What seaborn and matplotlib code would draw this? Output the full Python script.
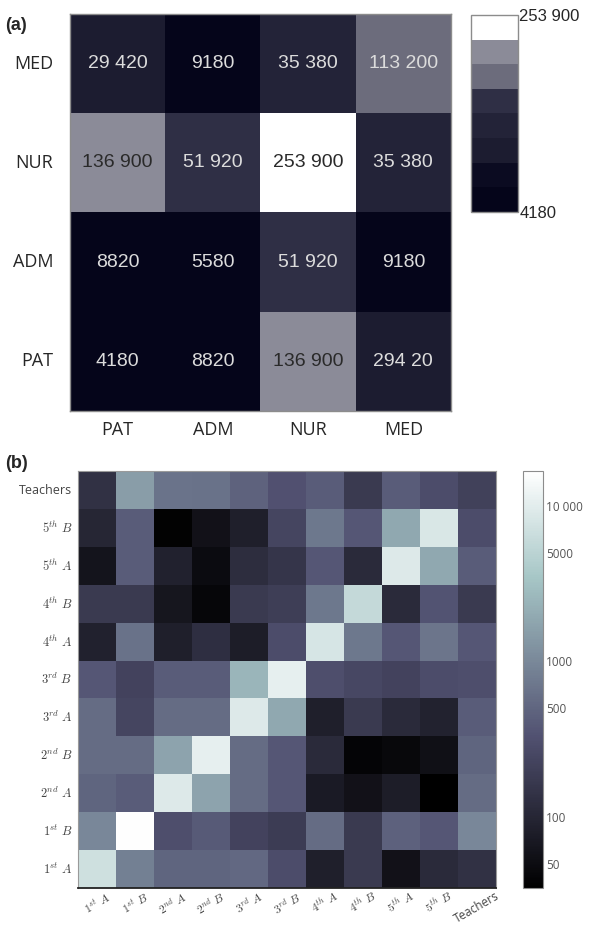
import numpy as np
import pandas as pd
import matplotlib
matplotlib.use("Agg")
import matplotlib.pyplot as plt
import seaborn as sns
from matplotlib.colors import ListedColormap, BoundaryNorm, LogNorm

# (a) contactos entre roles del hospital
roles = ["PAT", "ADM", "NUR", "MED"]
fila_pat = [4180, 8820, 136900, 29420]
fila_adm = [8820, 5580, 51920, 9180]
fila_nur = [136900, 51920, 253900, 35380]
fila_med = [29420, 9180, 35380, 113200]
texto_pat = ["4180", "8820", "136 900", "294 20"]
texto_adm = ["8820", "5580", "51 920", "9180"]
texto_nur = ["136 900", "51 920", "253 900", "35 380"]
texto_med = ["29 420", "9180", "35 380", "113 200"]
niveles_a = [4180, 10000, 25000, 32000, 45000, 100000, 125000, 200000, 253900]
colores_a = ["#05051a", "#0b0b21", "#1c1c30", "#232338", "#2f2f45",
             "#6c6c7c", "#8b8b98", "#ffffff"]
ticks_a = [4180, 253900]
ticklabels_a = ["4180", "253 900"]

# (b) contactos entre clases de la escuela
clases = [r"$1^{st}\ A$", r"$1^{st}\ B$", r"$2^{nd}\ A$", r"$2^{nd}\ B$",
          r"$3^{rd}\ A$", r"$3^{rd}\ B$", r"$4^{th}\ A$", r"$4^{th}\ B$",
          r"$5^{th}\ A$", r"$5^{th}\ B$", "Teachers"]
c1a = [7000, 860, 495, 495, 520, 285, 83, 175, 57, 113, 136]
c1b = [980, 16000, 303, 390, 223, 185, 560, 175, 450, 365, 980]
c2a = [495, 413, 9000, 1700, 560, 365, 73, 57, 78, 35, 560]
c2b = [560, 560, 1700, 10700, 560, 365, 113, 40, 44, 55, 495]
c3a = [560, 237, 560, 560, 9000, 1880, 83, 175, 113, 90, 413]
c3b = [365, 223, 413, 413, 2470, 10700, 303, 252, 223, 285, 303]
c4a = [88, 636, 83, 128, 78, 285, 8000, 720, 365, 680, 365]
c4b = [175, 175, 65, 42, 175, 197, 720, 5800, 113, 343, 175]
c5a = [61, 413, 88, 49, 120, 154, 365, 113, 9000, 1880, 413]
c5b = [100, 413, 37, 57, 83, 237, 720, 365, 1880, 8500, 285]
cte = [136, 1515, 656, 636, 468, 323, 413, 175, 413, 285, 210]
ticks_b = [50, 100, 500, 1000, 5000, 10000]
ticklabels_b = ["50", "100", "500", "1000", "5000", "10 000"]

sns.set_style("white")
plt.rcParams["font.family"] = ["Open Sans", "DejaVu Sans"]
plt.rcParams["mathtext.fontset"] = "cm"

fig = plt.figure(figsize=(5.96, 9.26), dpi=100)

# ---------- panel (a) ----------
df_a = pd.DataFrame([fila_pat, fila_adm, fila_nur, fila_med], index=roles, columns=roles)
txt_a = np.array([texto_pat, texto_adm, texto_nur, texto_med])
ax_a = fig.add_axes([0.1174, 0.5562, 0.6393, 0.4287])
cax_a = fig.add_axes([0.790, 0.7711, 0.0789, 0.2127])
sns.heatmap(df_a, ax=ax_a, cbar_ax=cax_a,
            cmap=ListedColormap(colores_a), norm=BoundaryNorm(niveles_a, len(colores_a)),
            annot=txt_a, fmt="",
            annot_kws={"size": 14, "family": "Liberation Sans"},
            cbar_kws={"ticks": ticks_a})
ax_a.invert_yaxis()
for t, v in zip(ax_a.texts, df_a.values.ravel()):
    t.set_color("#2a2a2a" if v > 120000 else "#dcdcdc")
ax_a.set_xticklabels(roles, fontsize=13, rotation=0)
ax_a.set_yticklabels(roles, fontsize=13, rotation=0)
ax_a.tick_params(axis="y", length=0, pad=12)
ax_a.tick_params(axis="x", length=0, pad=7)
for s in ax_a.spines.values():
    s.set_visible(True)
    s.set_color("#8c8c8c")
    s.set_linewidth(1)
cb_a = ax_a.collections[0].colorbar
cb_a.minorticks_off()
cb_a.set_ticklabels(ticklabels_a)
cb_a.ax.tick_params(which="both", length=0, labelsize=12, pad=1)
for lab in cb_a.ax.get_yticklabels():
    lab.set_family("Liberation Sans")
cb_a.outline.set_linewidth(1)
cb_a.outline.set_edgecolor("#8c8c8c")

# ---------- panel (b) ----------
df_b = pd.DataFrame([c1a, c1b, c2a, c2b, c3a, c3b, c4a, c4b, c5a, c5b, cte],
                    index=clases, columns=clases)
ax_b = fig.add_axes([0.1309, 0.0410, 0.7013, 0.4503])
cax_b = fig.add_axes([0.8775, 0.0410, 0.0336, 0.4503])
sns.heatmap(df_b, ax=ax_b, cbar_ax=cax_b, cmap="bone",
            norm=LogNorm(vmin=35, vmax=16700),
            cbar_kws={"ticks": ticks_b})
ax_b.invert_yaxis()
ax_b.set_xticklabels(clases, rotation=30, ha="center", fontsize=8.5, color="#444444")
ax_b.set_yticklabels(clases, rotation=0, fontsize=9, color="#444444")
ax_b.tick_params(direction="in", length=3, width=0.6, color="#555555",
                 top=True, right=True, pad=4)
ax_b.tick_params(axis="x", pad=1)
for s in ax_b.spines.values():
    s.set_visible(True)
    s.set_color("#9a9a9a")
    s.set_linewidth(0.8)
ax_b.spines["bottom"].set_color("#222222")
ax_b.spines["bottom"].set_linewidth(1.3)
cb_b = ax_b.collections[0].colorbar
cb_b.minorticks_off()
cb_b.set_ticklabels(ticklabels_b)
cb_b.ax.tick_params(direction="in", length=3, width=0.6, labelsize=8.5,
                    colors="#555555", pad=2)
cb_b.outline.set_linewidth(0.8)
cb_b.outline.set_edgecolor("#8c8c8c")

fig.text(0.008, 0.973, "(a)", fontsize=13, fontweight="bold", va="center",
         family="Liberation Sans")
fig.text(0.008, 0.500, "(b)", fontsize=13, fontweight="bold", va="center",
         family="Liberation Sans")

fig.savefig("out.png", dpi=100)
